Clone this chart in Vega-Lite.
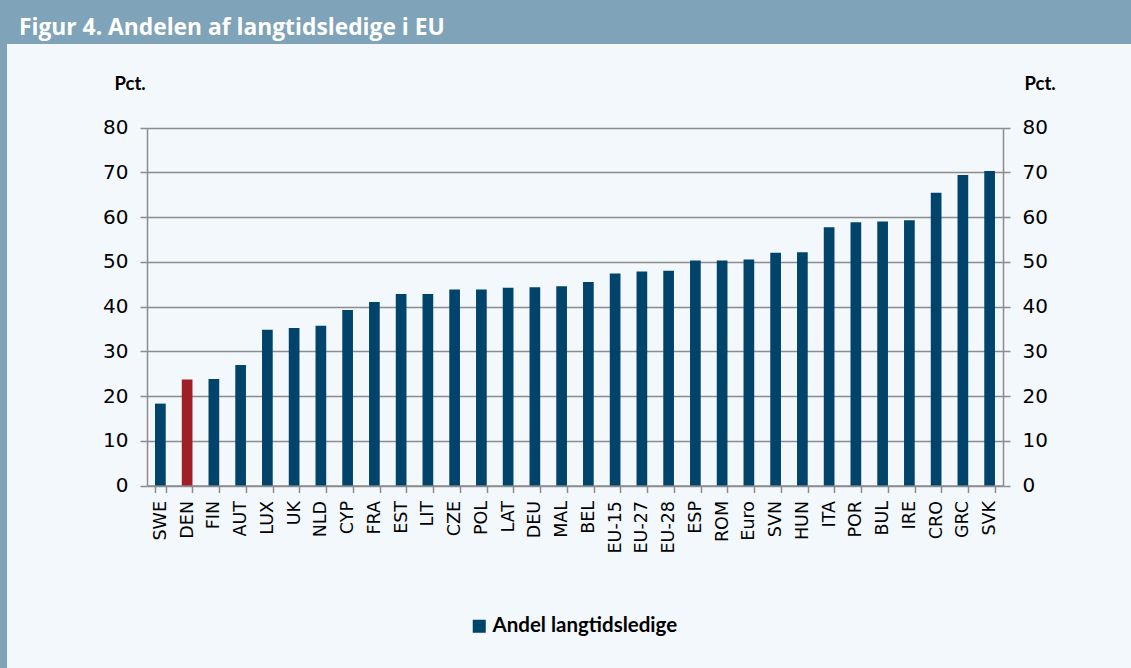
{
  "$schema": "https://vega.github.io/schema/vega-lite/v6.json",
  "autosize": "none",
  "width": 1124,
  "height": 624,
  "padding": {"left": 7, "top": 44, "right": 0, "bottom": 0},
  "background": "#7fa3b8",
  "title": {
    "text": "Figur 4. Andelen af langtidsledige i EU",
    "orient": "top",
    "anchor": "start",
    "frame": "group",
    "baseline": "alphabetic",
    "offset": 10,
    "dx": 12,
    "dy": 24,
    "font": "Open Sans",
    "fontSize": 22.8,
    "fontWeight": "bold",
    "color": "#ffffff"
  },
  "data": {
    "values": [
      {"land": "SWE", "andel": 18.3, "serie": "Andel langtidsledige"},
      {"land": "DEN", "andel": 23.7, "serie": "Andel langtidsledige"},
      {"land": "FIN", "andel": 23.8, "serie": "Andel langtidsledige"},
      {"land": "AUT", "andel": 26.9, "serie": "Andel langtidsledige"},
      {"land": "LUX", "andel": 34.8, "serie": "Andel langtidsledige"},
      {"land": "UK", "andel": 35.2, "serie": "Andel langtidsledige"},
      {"land": "NLD", "andel": 35.7, "serie": "Andel langtidsledige"},
      {"land": "CYP", "andel": 39.2, "serie": "Andel langtidsledige"},
      {"land": "FRA", "andel": 41.0, "serie": "Andel langtidsledige"},
      {"land": "EST", "andel": 42.8, "serie": "Andel langtidsledige"},
      {"land": "LIT", "andel": 42.8, "serie": "Andel langtidsledige"},
      {"land": "CZE", "andel": 43.8, "serie": "Andel langtidsledige"},
      {"land": "POL", "andel": 43.8, "serie": "Andel langtidsledige"},
      {"land": "LAT", "andel": 44.2, "serie": "Andel langtidsledige"},
      {"land": "DEU", "andel": 44.3, "serie": "Andel langtidsledige"},
      {"land": "MAL", "andel": 44.5, "serie": "Andel langtidsledige"},
      {"land": "BEL", "andel": 45.5, "serie": "Andel langtidsledige"},
      {"land": "EU-15", "andel": 47.4, "serie": "Andel langtidsledige"},
      {"land": "EU-27", "andel": 47.8, "serie": "Andel langtidsledige"},
      {"land": "EU-28", "andel": 48.0, "serie": "Andel langtidsledige"},
      {"land": "ESP", "andel": 50.3, "serie": "Andel langtidsledige"},
      {"land": "ROM", "andel": 50.3, "serie": "Andel langtidsledige"},
      {"land": "Euro", "andel": 50.5, "serie": "Andel langtidsledige"},
      {"land": "SVN", "andel": 52.0, "serie": "Andel langtidsledige"},
      {"land": "HUN", "andel": 52.1, "serie": "Andel langtidsledige"},
      {"land": "ITA", "andel": 57.7, "serie": "Andel langtidsledige"},
      {"land": "POR", "andel": 58.8, "serie": "Andel langtidsledige"},
      {"land": "BUL", "andel": 59.0, "serie": "Andel langtidsledige"},
      {"land": "IRE", "andel": 59.3, "serie": "Andel langtidsledige"},
      {"land": "CRO", "andel": 65.4, "serie": "Andel langtidsledige"},
      {"land": "GRC", "andel": 69.4, "serie": "Andel langtidsledige"},
      {"land": "SVK", "andel": 70.3, "serie": "Andel langtidsledige"}
    ]
  },
  "encoding": {
    "x": {
      "field": "land",
      "type": "nominal",
      "sort": null,
      "scale": {"range": [140, 996], "paddingInner": 0.6, "paddingOuter": 0.3},
      "axis": {
        "title": null,
        "offset": -182.5,
        "labelAngle": -90,
        "labelFont": "DejaVu Sans",
        "labelFontSize": 17.5,
        "labelColor": "#000000",
        "labelPadding": 8,
        "tickBand": "extent",
        "tickSize": 7,
        "tickColor": "#8c8c8c",
        "tickWidth": 1.5,
        "domainColor": "#8c8c8c",
        "domainWidth": 1.5,
        "grid": false
      }
    }
  },
  "layer": [
    {
      "mark": {"type": "bar"},
      "encoding": {
        "y": {
          "field": "andel",
          "type": "quantitative",
          "scale": {"domain": [0, 80], "range": [441.5, 83.5], "nice": false},
          "axis": {
            "orient": "left",
            "offset": -140,
            "values": [0, 10, 20, 30, 40, 50, 60, 70, 80],
            "title": "Pct.",
            "titleAngle": 0,
            "titleAlign": "left",
            "titleBaseline": "alphabetic",
            "titleX": -33,
            "titleY": 45,
            "titleFont": "Lato",
            "titleFontSize": 18.5,
            "titleFontWeight": "bold",
            "titleColor": "#000000",
            "labelFont": "DejaVu Sans",
            "labelFontSize": 20,
            "labelColor": "#000000",
            "labelPadding": 12,
            "tickSize": 7,
            "tickColor": "#8c8c8c",
            "tickWidth": 1.5,
            "domainColor": "#8c8c8c",
            "domainWidth": 1.5,
            "grid": true,
            "gridColor": "#8c8c8c",
            "gridWidth": 1.5
          }
        },
        "color": {
          "condition": {"test": "datum.land === 'DEN'", "value": "#9e1f25"},
          "field": "serie",
          "type": "nominal",
          "scale": {"range": ["#00446b"]},
          "legend": {
            "title": null,
            "orient": "none",
            "legendX": 462,
            "legendY": 572,
            "symbolType": "square",
            "symbolSize": 170,
            "symbolStrokeWidth": 0,
            "labelFont": "Lato",
            "labelFontSize": 20.5,
            "labelFontWeight": "bold",
            "labelColor": "#000000",
            "labelOffset": 3,
            "labelLimit": 400
          }
        }
      }
    },
    {
      "mark": {"type": "bar", "opacity": 0},
      "encoding": {
        "y": {
          "field": "andel",
          "type": "quantitative",
          "axis": {
            "orient": "right",
            "offset": -128,
            "values": [0, 10, 20, 30, 40, 50, 60, 70, 80],
            "title": "Pct.",
            "titleAngle": 0,
            "titleAlign": "left",
            "titleBaseline": "alphabetic",
            "titleX": 21,
            "titleY": 45,
            "titleFont": "Lato",
            "titleFontSize": 18.5,
            "titleFontWeight": "bold",
            "titleColor": "#000000",
            "labelFont": "DejaVu Sans",
            "labelFontSize": 20,
            "labelColor": "#000000",
            "labelPadding": 12,
            "tickSize": 7,
            "tickColor": "#8c8c8c",
            "tickWidth": 1.5,
            "domainColor": "#8c8c8c",
            "domainWidth": 1.5,
            "grid": false
          }
        }
      }
    }
  ],
  "resolve": {"axis": {"y": "independent"}},
  "config": {
    "view": {"fill": "#f3f8fc", "stroke": null}
  }
}
